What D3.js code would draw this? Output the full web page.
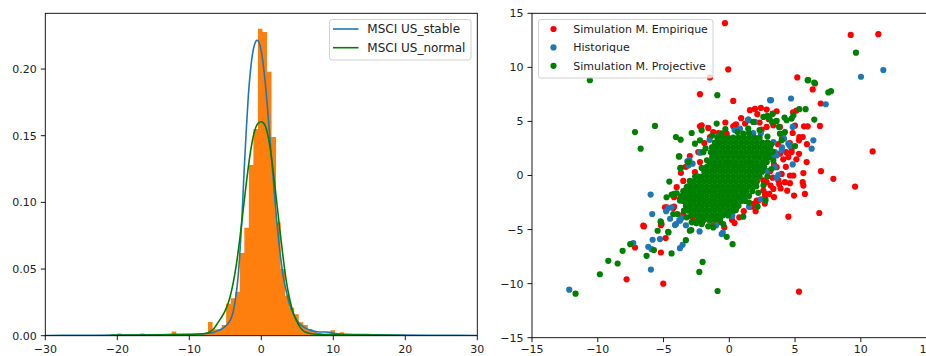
<!DOCTYPE html>
<html>
<head>
<meta charset="utf-8">
<script src="https://cdn.jsdelivr.net/npm/d3@7"></script>
<style>
  html, body { margin: 0; padding: 0; background: #fff; }
  svg { display: block; font-family: "DejaVu Sans", sans-serif; }
</style>
</head>
<body>
<svg id="chart" width="926" height="356"></svg>
<script>
// ---------- left panel: return distribution ----------
// histogram (density), 50 equal bins starting at histStart
const histStart = -20.0;
const histBinWidth = 0.63;
const histDensity = [
  0.0016, 0, 0, 0, 0, 0.0016, 0, 0, 0, 0,
  0, 0, 0.0032, 0, 0, 0, 0, 0.0008, 0.0008, 0.0016,
  0.0103, 0.0048, 0.0048, 0.0080, 0.0240, 0.0280, 0.0330, 0.0620, 0.0810, 0.1280,
  0.1550, 0.2303, 0.2278, 0.1980, 0.1490, 0.0850, 0.0500, 0.0300, 0.0210, 0.0160,
  0.0100, 0.0080, 0.0050, 0.0030, 0.0020, 0.0010, 0.0015, 0.0040, 0.0010, 0.0025
];

// fitted stable density
const stableX = [-30, -25, -20, -15, -12, -10, -8, -7, -6.5, -6, -5.5, -5, -4.5, -4.2, -3.9, -3.6, -3.3, -3.0, -2.7, -2.4, -2.1, -1.8, -1.5, -1.2, -0.9, -0.6, -0.4, -0.2, 0, 0.3, 0.6, 0.9, 1.2, 1.5, 1.8, 2.1, 2.4, 2.7, 3.0, 3.4, 3.9, 4.5, 5.0, 5.5, 6.2, 7.0, 8.0, 9.0, 9.5, 10, 11, 12, 13.5, 14.7, 16, 20, 25, 30];
const stableY = [0.0002, 0.0003, 0.0004, 0.0006, 0.0008, 0.001, 0.0015, 0.002, 0.0028, 0.0038, 0.005, 0.007, 0.010, 0.013, 0.018, 0.027, 0.040, 0.060, 0.087, 0.122, 0.153, 0.180, 0.199, 0.212, 0.219, 0.2215, 0.221, 0.218, 0.213, 0.202, 0.187, 0.168, 0.148, 0.128, 0.108, 0.089, 0.072, 0.058, 0.046, 0.035, 0.024, 0.016, 0.011, 0.008, 0.0055, 0.0038, 0.0028, 0.0028, 0.0025, 0.0018, 0.0013, 0.001, 0.0008, 0.0009, 0.0006, 0.0004, 0.0003, 0.0002];

// fitted normal density
const normalX = [-21, -15, -12, -10, -9, -8, -7.5, -7, -6.5, -6, -5.5, -5, -4.5, -4, -3.5, -3, -2.5, -2, -1.5, -1, -0.5, 0, 0.5, 1, 1.5, 2, 2.5, 3, 3.5, 4, 4.5, 5, 5.5, 6, 6.5, 7, 8, 10, 12, 15, 20];
const normalY = [0.0003, 0.0005, 0.0008, 0.0008, 0.001, 0.0015, 0.002, 0.0035, 0.006, 0.010, 0.014, 0.019, 0.026, 0.037, 0.052, 0.072, 0.095, 0.118, 0.138, 0.152, 0.159, 0.1605, 0.158, 0.148, 0.130, 0.107, 0.083, 0.060, 0.040, 0.026, 0.016, 0.010, 0.0055, 0.003, 0.002, 0.0015, 0.001, 0.0008, 0.0006, 0.0004, 0.0002];

const leftXTicks = [-30, -20, -10, 0, 10, 20, 30];
const leftYTicks = [0, 0.05, 0.10, 0.15, 0.20];
const leftLegend = ["MSCI US_stable", "MSCI US_normal"];

// ---------- right panel: joint scatter ----------
const rightTicks = [-15, -10, -5, 0, 5, 10, 15];
const rightLegend = ["Simulation M. Empirique", "Historique", "Simulation M. Projective"];

const empirique = [
  [-0.33,14.09],[9.23,13.0],[11.33,13.07],[-0.08,9.81],[-1.47,9.07],[-2.23,7.52],[0.30,6.90],[5.17,9.07],
  [6.34,7.96],[6.52,8.51],[6.95,6.66],[6.89,4.58],[10.9,2.23],[9.56,-1.02],[7.91,-0.31],[6.97,0.40],
  [5.88,1.24],[5.63,0.22],[5.58,-0.62],[5.63,-0.93],[5.75,-1.70],[4.92,-1.86],[4.61,0],[4.49,-3.81],
  [6.84,-3.47],[5.30,-10.74],[-5.02,-10.0],[-7.81,-9.60],[-7.17,-6.66],[-6.49,-4.71],[-5.20,-7.12],
  [-4.84,-5.79],[-5.15,-4.49],[-3.68,0.25],[-0.38,-4.80],[0.76,-3.87],[4.99,4.61],[5.68,4.55],
  [5.96,4.55],[5.1,6.0],[4.85,5.85],[5.58,3.56],[5.3,3.25],[4.74,2.48],[4.74,2.17],[1.57,6.04],
  [1.95,6.16],[2.41,6.25],[2.13,5.67],[3.6,5.94],[3.3,5.73],[2.84,6.1],[-2.23,4.55],[0.3,4.55],
  [0.51,4.74],[-1.47,3.56],[-0.84,3.93],[-0.2,3.87],[1.45,5.11],[0.43,4.64],[-2.1,4.64],[-1.22,4.02],
  [-0.83,3.1],[-2.36,2.17],[-2.23,1.24],[-2.61,0.31],[-3.75,-2.16],[-4.76,-2.94],[-4.89,-2.94],
  [-4.2,-2.88],[-6.54,-4.64],[1.7,-2.79],[2.08,-2.32],[2.59,-1.39],[2.71,-2.01],[2.59,-0.46],
  [2.84,-0.62],[3.14,-0.93],[2.71,-1.70],[3.35,-1.24],[3.73,-0.46],[3.98,0.15],[4.23,-0.62],
  [3.6,0.77],[4.49,1.7],[4.31,2.17],[3.85,2.01],[5.32,3.56],[4.82,3.93],[3.85,4.49],[3.35,4.64],
  [2.84,4.49],[2.46,4.24],[1.82,-2.63],[2.21,-2.32],[1.7,-2.88],[3.04,-1.70],[2.08,-2.79],[4.87,0],
  [4.61,-0.71],[-4.0,-1.08],[-4.26,-3.0],[-3.5,-3.56],[-2.74,-4.18],[-2.1,-4.43],[-1.47,-4.02],
  [-0.7,-4.3],[0.2,-4.1],[-5.2,-4.6],[-3.3,-1.9],[-3.1,-2.9],[-2.9,-3.8],[2.7,-2.6],[3.4,-2.0],
  [3.9,-1.2],[4.3,0.8],[4.1,1.5],[3.8,-0.8],[2.3,4.9],[3.0,5.2],[0.9,5.3],[-0.3,4.9],[-1.6,4.4],
  [1.2,4.8],[3.7,2.9],[4.0,3.4],[3.3,-0.2],[3.1,0.4],[3.4,1.0],[4.4,-1.4],[2.0,-3.3],[1.1,-3.3],
  [-1.2,-4.6],[0.4,-4.4],[-1.9,3.0],[-1.3,2.6],[-3.0,1.8],[-3.3,0.8],[-3.5,-0.5],[-4.2,-2.0],
  [4.6,3.0],[5.9,2.9],[5.1,1.5],[5.3,2.0]
];

const historique = [
  [11.71,9.75],[10.01,9.13],[7.33,6.59],[3.17,6.97],[4.69,7.12],[1.44,5.17],[4.82,4.49],[6.39,3.25],
  [6.26,2.48],[4.82,1.02],[3.73,0.06],[3.09,2.01],[3.3,1.95],[-5.98,-1.76],[-5.86,-3.56],[-5.83,-5.94],
  [-5.96,-8.70],[-7.30,-6.25],[-6.16,-6.59],[-5.91,-6.81],[-12.17,-10.56],[-3.75,-6.72],[-3.55,-6.41],
  [-4.13,-4.58],[-3.80,-4.12],[-3.6,-3.9],[-4.64,-3.0],[-2.26,-5.17],[-0.58,-5.42],[0.23,-3.72],
  [-0.71,-4.03],[-3.19,1.30],[-3.11,0.93],[-2.23,2.11],[-5.27,-5.88],[-2.23,2.16],[-3.04,1.46],
  [-2.79,1.09],[-4.05,-4.49],[-3.75,-4.18],[-4.38,-2.94],[-2.23,-3.87],[-1.95,-3.9],[0.18,-3.72],
  [1.45,5.17],[1.95,4.95],[0.81,4.33],[3.1,6.97],[3.47,2.17],[3.6,1.86],[3.98,2.32],[4.16,3.41],
  [4.49,2.94],[4.61,2.72],[3.35,3.1],[3.09,2.38],[3.14,1.70],[3.47,0.77],[4.11,3.87],[1.82,3.93],
  [-0.5,-5.3],[-1.0,-4.6],[-2.5,-4.4],[-3.3,-4.6],[-4.5,-4.0],[-4.8,-3.3],[2.4,-2.2],[1.5,-2.9],
  [3.6,-0.2],[2.9,0.4],[-1.5,3.3],[-0.8,3.6],[0.4,4.2],[2.4,3.9],[4.0,2.6]
];

const projective = [
  [-10.60,8.82],[9.63,11.36],[5.96,8.82],[6.46,8.58],[6.0,8.82],[7.53,7.68],[7.73,7.80],[-0.91,7.43],
  [-7.17,4.02],[-6.74,2.48],[-5.65,4.58],[-4.06,3.56],[-3.70,3.31],[-2.86,3.93],[-2.10,4.18],[-0.96,4.80],
  [-3.80,1.76],[-3.73,0.68],[-4.56,-0.56],[-4.77,-2.01],[-4.18,-1.70],[-4.38,-1.76],[-4.0,-1.64],
  [-5.22,-4.24],[-4.64,-5.20],[-5.45,-5.11],[-5.73,-6.90],[-6.29,-7.43],[-7.53,-6.35],[-8.11,-6.97],
  [-8.49,-8.14],[-9.20,-7.89],[-9.84,-9.13],[-11.69,-10.93],[-4.39,-7.21],[-3.30,-5.98],[-2.28,-8.92],
  [-2.03,-7.99],[-0.89,-10.68],[-0.20,-5.67],[0.25,-6.35],[1.06,-3.81],[2.15,-2.88],[2.76,-2.26],
  [-3.0,-5.1],[-2.89,-5.04],[3.35,1.39],[5.0,2.72],[4.87,5.57],[5.32,6.13],[5.80,6.13],[6.46,5.17],
  [4.2,5.36],[4.36,5.11],[4.74,5.26],[3.3,5.7],[2.59,5.42],[1.82,4.95],[3.85,3.87],[4.23,4.02],
  [2.89,5.51],[3.05,5.26],[3.25,4.95],[3.6,5.05],[3.78,4.49],[3.98,3.25],[1.44,4.33],[1.06,3.87],
  [0.63,4.02],[-4.26,-3.56],[-3.95,-3.56],[-5.2,-4.33],[-4.63,-5.26],[-3.67,0.71],[-3.11,1.24],
  [-2.61,2.94],[-2.23,3.25],[-1.98,2.16],[-1.8,2.5],[-3.83,1.76],[-3.24,-1.08],[-3.6,-2.01],
  [-3.75,-2.32],[-3.45,-3.25],[-3.24,-3.87],[-2.86,-4.33],[-2.1,-4.49],[-1.47,-4.18],[-0.71,-4.02],
  [-0.08,-3.56],[-2.5,-4.4],[-1.6,-4.7],[-0.46,-4.49],[-1.22,-4.8],[0.5,-3.2],[1.5,-2.5],[2.2,-1.6],
  [2.6,-0.9],[2.9,-0.1],[3.2,0.6],[3.3,2.2],[3.2,2.9],[2.9,3.6],[2.3,4.2],[1.5,3.9],[-0.3,4.3],
  [-0.6,3.9],[-1.3,3.7],[-1.7,1.4],[-2.1,0.7],[-2.6,-0.1],[-3.0,-0.5],[-2.2,-4.0]
];

// dense centre of the projective cloud, one row of x values per y level
const projectiveCore = [
  [3.5,   [-0.9,-0.5,-0.1,0.3,0.7,1.1,1.5,1.9,2.3]],
  [3.05,  [-1.1,-0.7,-0.3,0.1,0.5,0.9,1.3,1.7,2.1,2.5,2.9]],
  [2.6,   [-1.3,-0.9,-0.5,-0.1,0.3,0.7,1.1,1.5,1.9,2.3,2.7,3.1]],
  [2.15,  [-1.4,-1.1,-0.7,-0.3,0.1,0.5,0.9,1.3,1.7,2.1,2.5,2.9,3.2]],
  [1.7,   [-1.3,-0.9,-0.5,-0.1,0.3,0.7,1.1,1.5,1.9,2.3,2.7,3.0]],
  [1.25,  [-1.5,-1.1,-0.7,-0.3,0.1,0.5,0.9,1.3,1.7,2.1,2.5,2.85]],
  [0.8,   [-1.7,-1.3,-0.9,-0.5,-0.1,0.3,0.7,1.1,1.5,1.9,2.3,2.65]],
  [0.35,  [-1.9,-1.5,-1.1,-0.7,-0.3,0.1,0.5,0.9,1.3,1.7,2.1,2.5]],
  [-0.1,  [-2.35,-2.1,-1.7,-1.3,-0.9,-0.5,-0.1,0.3,0.7,1.1,1.5,1.9,2.3]],
  [-0.55, [-2.7,-2.3,-1.9,-1.5,-1.1,-0.7,-0.3,0.1,0.5,0.9,1.3,1.7,2.1]],
  [-1.0,  [-3.15,-2.9,-2.5,-2.1,-1.7,-1.3,-0.9,-0.5,-0.1,0.3,0.7,1.1,1.5,1.9,2.05]],
  [-1.45, [-3.5,-3.1,-2.7,-2.3,-1.9,-1.5,-1.1,-0.7,-0.3,0.1,0.5,0.9,1.3,1.75]],
  [-1.9,  [-3.65,-3.3,-2.9,-2.5,-2.1,-1.7,-1.3,-0.9,-0.5,-0.1,0.3,0.7,1.1,1.5]],
  [-2.35, [-3.5,-3.1,-2.7,-2.3,-1.9,-1.5,-1.1,-0.7,-0.3,0.1,0.5,0.9,1.2]],
  [-2.8,  [-3.3,-2.9,-2.5,-2.1,-1.7,-1.3,-0.9,-0.5,-0.1,0.3,0.7]],
  [-3.25, [-3.1,-2.7,-2.3,-1.9,-1.5,-1.1,-0.7,-0.3,0.1,0.35]],
  [-3.7,  [-2.9,-2.5,-2.1,-1.7,-1.3,-0.9,-0.5,-0.1]],
  [-4.1,  [-2.3,-1.9,-1.5,-1.1,-0.7]]
];

// ---------- styles ----------
const C_ORANGE = "#ff7f0e", C_BLUE = "#1f77b4", C_GREEN = "#008000", C_RED = "#ff0000";
const TEXT = "#222";
const FONT = 11;
const R = 3.1;

const svg = d3.select("#chart");

// ---------- left panel ----------
const L = { left: 45.3, right: 477.3, top: 13.3, bottom: 335.7 };
const xL = d3.scaleLinear().domain([-30, 30]).range([L.left, L.right]);
const yL = d3.scaleLinear().domain([0, 0.2418]).range([L.bottom, L.top]);

svg.append("clipPath").attr("id", "clipL")
  .append("rect").attr("x", L.left).attr("y", L.top)
  .attr("width", L.right - L.left).attr("height", L.bottom - L.top);

const gL = svg.append("g").attr("clip-path", "url(#clipL)");

// histogram drawn as one stepped outline so neighbouring bars leave no seams
const histPath = d3.path();
histPath.moveTo(xL(histStart), yL(0));
histDensity.forEach((d, i) => {
  const x0 = histStart + i * histBinWidth;
  const x1 = x0 + histBinWidth;
  histPath.lineTo(xL(x0), yL(d));
  histPath.lineTo(xL(x1), yL(d));
});
histPath.lineTo(xL(histStart + histDensity.length * histBinWidth), yL(0));
histPath.closePath();
gL.append("path").attr("d", histPath.toString()).attr("fill", C_ORANGE);

const line = d3.line().x(d => xL(d[0])).y(d => yL(d[1])).curve(d3.curveMonotoneX);
gL.append("path").datum(stableX.map((x, i) => [x, stableY[i]]))
  .attr("d", line).attr("fill", "none").attr("stroke", C_BLUE).attr("stroke-width", 1.6);
gL.append("path").datum(normalX.map((x, i) => [x, normalY[i]]))
  .attr("d", line).attr("fill", "none").attr("stroke", C_GREEN).attr("stroke-width", 1.6);

function drawFrame(box, xScale, yScale, xTicks, yTicks, yFmt, xLabelY) {
  const g = svg.append("g");
  xTicks.forEach(t => {
    const x = xScale(t);
    g.append("line").attr("x1", x).attr("x2", x).attr("y1", box.bottom).attr("y2", box.bottom + 4.5)
      .attr("stroke", "#000").attr("stroke-width", 0.9);
    g.append("text").attr("x", x).attr("y", xLabelY).attr("text-anchor", "middle")
      .attr("font-size", FONT).attr("fill", TEXT).text(d3.format("")(t));
  });
  yTicks.forEach(t => {
    const y = yScale(t);
    g.append("line").attr("x1", box.left - 4.5).attr("x2", box.left).attr("y1", y).attr("y2", y)
      .attr("stroke", "#000").attr("stroke-width", 0.9);
    g.append("text").attr("x", box.left - 8.5).attr("y", y).attr("dy", "0.36em")
      .attr("text-anchor", "end").attr("font-size", FONT).attr("fill", TEXT).text(yFmt(t));
  });
  g.append("rect").attr("x", box.left).attr("y", box.top)
    .attr("width", box.right - box.left).attr("height", box.bottom - box.top)
    .attr("fill", "none").attr("stroke", "#000").attr("stroke-width", 0.9);
}

drawFrame(L, xL, yL, leftXTicks, leftYTicks, d3.format(".2f"), 352.6);

// left legend
const lg = svg.append("g");
lg.append("rect").attr("x", 329.5).attr("y", 19.5).attr("width", 141.5).attr("height", 40.5)
  .attr("rx", 2.5).attr("fill", "#fff").attr("fill-opacity", 0.8)
  .attr("stroke", "#cccccc").attr("stroke-width", 0.9);
[C_BLUE, C_GREEN].forEach((c, i) => {
  const y = 29 + i * 18.7;
  lg.append("line").attr("x1", 333).attr("x2", 358.5).attr("y1", y).attr("y2", y)
    .attr("stroke", c).attr("stroke-width", 1.6);
  lg.append("text").attr("x", 367.3).attr("y", y).attr("dy", "0.36em")
    .attr("font-size", 12).attr("fill", TEXT).text(leftLegend[i]);
});

// ---------- right panel ----------
const Rb = { left: 532, right: 926.6, top: 13.3, bottom: 337.7 };
const xR = d3.scaleLinear().domain([-15, 15]).range([Rb.left, Rb.right]);
const yR = d3.scaleLinear().domain([-15, 15]).range([Rb.bottom, Rb.top]);

svg.append("clipPath").attr("id", "clipR")
  .append("rect").attr("x", Rb.left).attr("y", Rb.top)
  .attr("width", Rb.right - Rb.left).attr("height", Rb.bottom - Rb.top);
const gR = svg.append("g").attr("clip-path", "url(#clipR)");

function dots(data, color) {
  gR.append("g").selectAll("circle").data(data).join("circle")
    .attr("cx", d => xR(d[0])).attr("cy", d => yR(d[1])).attr("r", R).attr("fill", color);
}
const corePoints = projectiveCore.flatMap(([y, xs]) => xs.map(x => [x, y]));
dots(empirique, C_RED);
dots(historique, C_BLUE);
dots(projective.concat(corePoints), C_GREEN);

drawFrame(Rb, xR, yR, rightTicks, rightTicks, d3.format(""), 353);

// right legend
const rg = svg.append("g");
rg.append("rect").attr("x", 538.5).attr("y", 19.5).attr("width", 174.5).attr("height", 58.5)
  .attr("rx", 2.5).attr("fill", "#fff").attr("fill-opacity", 0.8)
  .attr("stroke", "#cccccc").attr("stroke-width", 0.9);
[C_RED, C_BLUE, C_GREEN].forEach((c, i) => {
  const y = 29 + i * 18.4;
  rg.append("circle").attr("cx", 553.5).attr("cy", y).attr("r", R).attr("fill", c);
  rg.append("text").attr("x", 573.3).attr("y", y).attr("dy", "0.36em")
    .attr("font-size", FONT).attr("fill", TEXT).text(rightLegend[i]);
});
</script>
</body>
</html>
